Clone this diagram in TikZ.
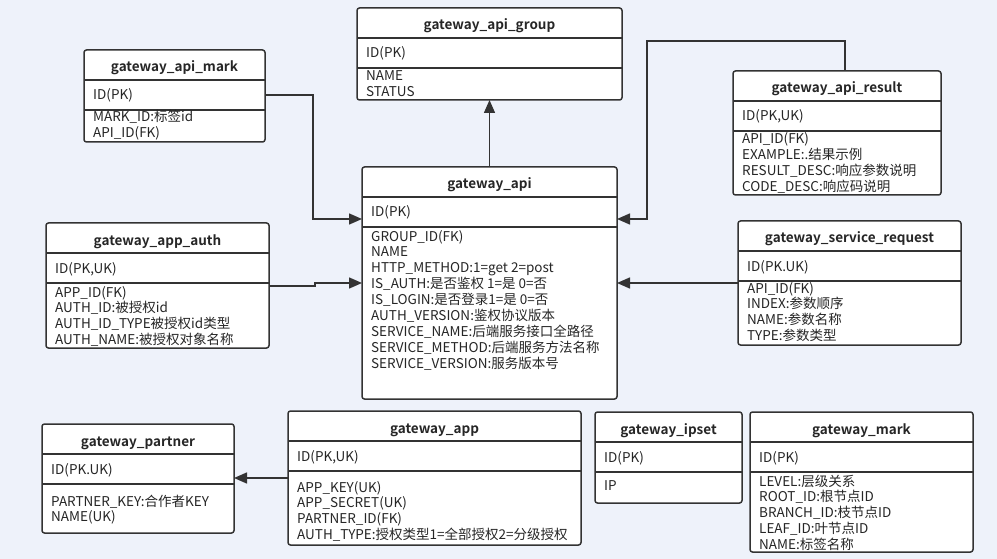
\documentclass[tikz,border=0pt]{standalone}
\usepackage{fontspec}
\setmainfont{Noto Sans CJK SC}[BoldFont={* Bold}]
\usetikzlibrary{arrows.meta}
\definecolor{bgblue}{RGB}{238,242,250}
\definecolor{tblgray}{RGB}{51,51,51}
\tikzset{
  tbl/.style={draw=tblgray, line width=1.5pt, fill=white, rounded corners=2.5pt,
    anchor=north west, inner sep=0pt, outer sep=0pt},
  tblline/.style={draw=tblgray, line width=1.5pt},
  tbltitle/.style={font=\fontsize{13.5}{16}\selectfont\bfseries, anchor=base,
    inner sep=0pt, text=black!85},
  tblfield/.style={font=\fontsize{13.5}{16}\selectfont, anchor=base west,
    inner sep=0pt, text=black!85},
  rel/.style={draw=tblgray, line width=1.5pt, -{Triangle[length=13pt,width=11pt]}},
}
% #1 offset of first field, #2 name, #3 x, #4 y, #5 width, #6 height, #7 title, #8 key, #9 fields
\newcommand{\erbox}[9][13]{%
  \node[tbl, minimum width=#5pt, minimum height=#6pt] (#2) at (#3,#4) {};
  \draw[tblline] ([yshift=-30pt]#2.north west) -- ([yshift=-30pt]#2.north east);
  \draw[tblline] ([yshift=-60pt]#2.north west) -- ([yshift=-60pt]#2.north east);
  \node[tbltitle] (#2-title) at ([yshift=-22pt]#2.north) {#7};
  \node[tblfield] (#2-key) at ([xshift=9pt,yshift=-50pt]#2.north west) {#8};
  \foreach \fld [count=\i] in {#9}
    \node[tblfield] (#2-f\i) at ([xshift=9pt,yshift={-60pt-#1pt-(\i-1)*15.9pt}]#2.north west) {\fld};
}
\begin{document}
\begin{tikzpicture}[x=1pt,y=-1pt]
  \fill[bgblue] (0,0) rectangle (997,559);

  \erbox{group}{357}{8}{265}{92}{gateway\_api\_group}{ID(PK)}{NAME,STATUS}
  \erbox[12]{mark}{84}{50}{181}{92}{gateway\_api\_mark}{ID(PK)}{MARK\_ID:标签id,API\_ID(FK)}
  \erbox{result}{733}{71}{208}{124}{gateway\_api\_result}{ID(PK,UK)}%
    {API\_ID(FK),EXAMPLE:.结果示例,RESULT\_DESC:响应参数说明,CODE\_DESC:响应码说明}
  \erbox[14]{api}{362}{167}{255}{232}{gateway\_api}{ID(PK)}%
    {GROUP\_ID(FK),NAME,HTTP\_METHOD:1=get 2=post,IS\_AUTH:是否鉴权 1=是 0=否,
     IS\_LOGIN:是否登录1=是 0=否,AUTH\_VERSION:鉴权协议版本,SERVICE\_NAME:后端服务接口全路径,
     SERVICE\_METHOD:后端服务方法名称,SERVICE\_VERSION:服务版本号}
  \erbox[14]{auth}{46}{223}{223}{125}{gateway\_app\_auth}{ID(PK,UK)}%
    {APP\_ID(FK),AUTH\_ID:被授权id,AUTH\_ID\_TYPE被授权id类型,AUTH\_NAME:被授权对象名称}
  \erbox[12]{service}{738}{221}{223}{124}{gateway\_service\_request}{ID(PK.UK)}%
    {API\_ID(FK),INDEX:参数顺序,NAME:参数名称,TYPE:参数类型}
  \erbox[22]{partner}{42}{424}{192}{109}{gateway\_partner}{ID(PK.UK)}%
    {PARTNER\_KEY:合作者KEY,NAME(UK)}
  \erbox[21]{app}{288}{411}{293}{134}{gateway\_app}{ID(PK,UK)}%
    {APP\_KEY(UK),APP\_SECRET(UK),PARTNER\_ID(FK),AUTH\_TYPE:授权类型1=全部授权2=分级授权}
  \erbox[18]{ipset}{595}{412}{147}{91}{gateway\_ipset}{ID(PK)}{IP}
  \erbox[14]{gmark}{750}{412}{223}{140}{gateway\_mark}{ID(PK)}%
    {LEVEL:层级关系,ROOT\_ID:根节点ID,BRANCH\_ID:枝节点ID,LEAF\_ID:叶节点ID,NAME:标签名称}

  % relations
  \draw[rel] (api.north) -- (group.south);
  \draw[rel] ([yshift=-45pt]mark.north east) -- ++(48,0) |- ([yshift=-52pt]api.north west);
  \draw[rel] ([xshift=8pt]result.north) -- ++(0,-30) -- ++(-198,0) |- ([yshift=-52pt]api.north east);
  \draw[rel] ([yshift=-63pt]auth.north east) -- ++(46,0) -- ++(0,-3) -- ([yshift=-116pt]api.north west);
  \draw[rel] ([yshift=-62pt]service.north west) -- ([yshift=-116pt]api.north east);
  \draw[rel] ([yshift=-67pt]app.north west) -- ([yshift=-54pt]partner.north east);
\end{tikzpicture}
\end{document}
